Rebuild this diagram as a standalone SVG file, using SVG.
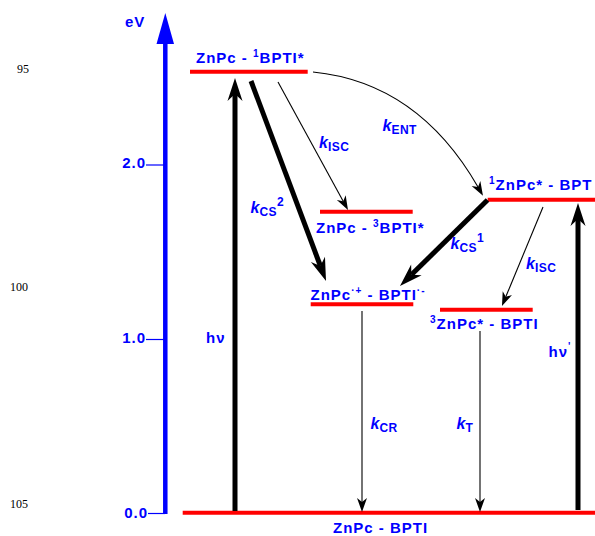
<svg xmlns="http://www.w3.org/2000/svg" width="595" height="536" viewBox="0 0 595 536">
<style>
.lbl{font-family:"Liberation Sans",Arial,sans-serif;font-weight:bold;font-size:15px;fill:#0000ff;letter-spacing:1px}
.k{font-style:italic;font-size:16px;letter-spacing:0}
.sub{font-size:12px;font-style:normal;letter-spacing:0.5px}
.sup{font-size:10px}
.num{font-family:"Liberation Serif","Times New Roman",serif;font-size:12px;fill:#000}
.lvl{stroke:#ff0000;stroke-width:4;fill:none}
.thick{stroke:#000;stroke-width:5;fill:none}
.thin{stroke:#000;stroke-width:1.1;fill:none}
.axis{stroke:#0000ff;fill:none}
</style>
<defs>
<marker id="ahT" markerUnits="userSpaceOnUse" viewBox="-24 -10 26 20" markerWidth="26" markerHeight="20" refX="-16" refY="0" orient="auto" overflow="visible">
<path d="M0,0 L-23,-7.5 L-16,0 L-23,7.5 Z" fill="#000"/>
</marker>
<marker id="ahN" markerUnits="userSpaceOnUse" viewBox="-16 -6 18 12" markerWidth="18" markerHeight="12" refX="-10" refY="0" orient="auto" overflow="visible">
<path d="M0,0 L-14,-5 L-10,0 L-14,5 Z" fill="#000"/>
</marker>
</defs>
<rect width="595" height="536" fill="#fff"/>

<g id="side-numbers">
<text class="num" x="17" y="73">95</text>
<text class="num" x="10" y="291">100</text>
<text class="num" x="10" y="508">105</text>
</g>

<g id="axis">
<line class="axis" x1="165.3" y1="514" x2="165.3" y2="40" stroke-width="4.5"/>
<path d="M165.3,13 L174,44 L156.5,44 Z" fill="#0000ff"/>
<line class="axis" x1="146" y1="165" x2="165" y2="165" stroke-width="1.2"/>
<line class="axis" x1="146" y1="339.5" x2="165" y2="339.5" stroke-width="1.2"/>
<line class="axis" x1="148" y1="513.5" x2="165" y2="513.5" stroke-width="1.2"/>
<text class="lbl" x="125" y="27">eV</text>
<text class="lbl" x="146" y="168" text-anchor="end">2.0</text>
<text class="lbl" x="146" y="343" text-anchor="end">1.0</text>
<text class="lbl" x="148" y="518" text-anchor="end">0.0</text>
</g>

<g id="S1-BPTI">
<line class="lvl" x1="190" y1="71.7" x2="307.7" y2="71.7"/>
<text class="lbl" x="196" y="63">ZnPc - <tspan class="sup" dy="-6">1</tspan><tspan dy="6">BPTI*</tspan></text>
</g>

<g id="T1-BPTI">
<line class="lvl" x1="320" y1="211.7" x2="412.7" y2="211.7"/>
<text class="lbl" x="316" y="232.5">ZnPc - <tspan class="sup" dy="-6">3</tspan><tspan dy="6">BPTI*</tspan></text>
</g>

<g id="CS-state">
<line class="lvl" x1="310.7" y1="304.3" x2="413.3" y2="304.3"/>
<text class="lbl" x="310.5" y="299.5">ZnPc<tspan class="sup" dy="-6">·+</tspan><tspan dy="6"> - BPTI</tspan><tspan class="sup" dy="-6">·-</tspan></text>
</g>

<g id="S1-ZnPc">
<line class="lvl" x1="487.7" y1="199.7" x2="595" y2="199.7"/>
<text class="lbl" x="489" y="189.5"><tspan class="sup" dy="-6">1</tspan><tspan dy="6">ZnPc* - BPT</tspan></text>
</g>

<g id="T1-ZnPc">
<line class="lvl" x1="440" y1="309.7" x2="532.7" y2="309.7"/>
<text class="lbl" x="430" y="328.5"><tspan class="sup" dy="-6">3</tspan><tspan dy="6">ZnPc* - BPTI</tspan></text>
</g>

<g id="ground">
<line class="lvl" x1="182.7" y1="512.7" x2="595" y2="512.7"/>
<text class="lbl" x="333" y="533">ZnPc - BPTI</text>
</g>

<g id="connectors">
<line class="thick" x1="235" y1="511" x2="235" y2="94" marker-end="url(#ahT)"/>
<line class="thick" x1="578" y1="510" x2="578" y2="219" marker-end="url(#ahT)"/>
<line class="thick" x1="251" y1="81" x2="320.4" y2="266" marker-end="url(#ahT)"/>
<line class="thick" x1="487.5" y1="200" x2="411.4" y2="274.8" marker-end="url(#ahT)"/>
<line class="thin" x1="278" y1="82" x2="343.2" y2="201.2" marker-end="url(#ahN)"/>
<line class="thin" x1="543" y1="207" x2="505.8" y2="296.8" marker-end="url(#ahN)"/>
<line class="thin" x1="362" y1="311" x2="362" y2="502" marker-end="url(#ahN)"/>
<line class="thin" x1="480" y1="331" x2="480" y2="502" marker-end="url(#ahN)"/>
<path class="thin" d="M313,72 Q418,82.5 478,187" marker-end="url(#ahN)"/>

<text class="lbl" x="206" y="343">hν</text>
<text class="lbl" x="548.5" y="357">hν<tspan class="sup" dy="-7">'</tspan></text>
<text class="lbl k" x="382.5" y="131">k<tspan class="sub" dy="3">ENT</tspan></text>
<text class="lbl k" x="319" y="148">k<tspan class="sub" dy="3">ISC</tspan></text>
<text class="lbl k" x="250.5" y="213">k<tspan class="sub" dy="3">CS</tspan><tspan class="sub" dy="-10">2</tspan></text>
<text class="lbl k" x="450.5" y="249">k<tspan class="sub" dy="3">CS</tspan><tspan class="sub" dy="-10">1</tspan></text>
<text class="lbl k" x="526" y="269">k<tspan class="sub" dy="3">ISC</tspan></text>
<text class="lbl k" x="370.5" y="429">k<tspan class="sub" dy="3">CR</tspan></text>
<text class="lbl k" x="456.5" y="429">k<tspan class="sub" dy="3">T</tspan></text>
</g>
</svg>
